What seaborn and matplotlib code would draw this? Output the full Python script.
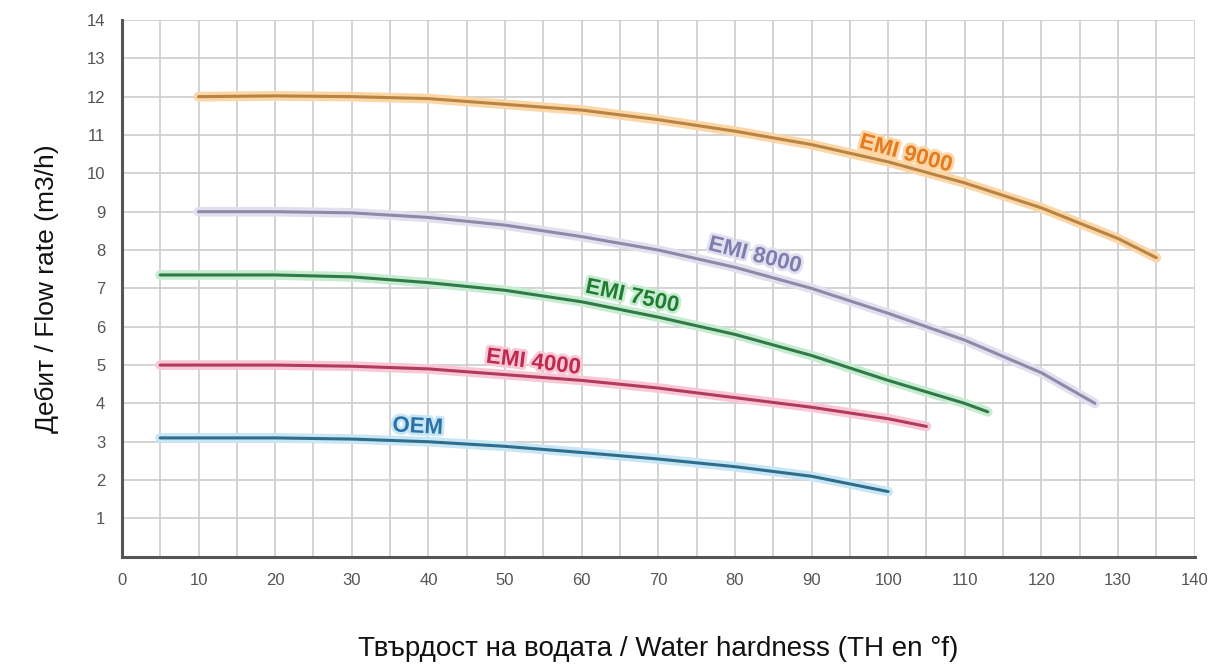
import matplotlib.pyplot as plt
import matplotlib.patheffects as pe
import pandas as pd
import seaborn as sns

# hardness (TH en °f) and flow rate (m3/h)
emi9000_x = [10, 20, 30, 40, 50, 60, 70, 80, 90, 100, 110, 120, 130, 135]
emi9000_y = [12.0, 12.02, 12.0, 11.95, 11.8, 11.65, 11.4, 11.1, 10.75, 10.3, 9.75, 9.1, 8.3, 7.8]

emi8000_x = [10, 20, 30, 40, 50, 60, 70, 80, 90, 100, 110, 120, 127]
emi8000_y = [9.0, 9.0, 8.97, 8.85, 8.65, 8.35, 8.0, 7.55, 7.0, 6.35, 5.65, 4.8, 4.0]

emi7500_x = [5, 10, 20, 30, 40, 50, 60, 70, 80, 90, 100, 110, 113]
emi7500_y = [7.35, 7.35, 7.35, 7.3, 7.15, 6.95, 6.65, 6.25, 5.8, 5.25, 4.6, 4.0, 3.78]

emi4000_x = [5, 10, 20, 30, 40, 50, 60, 70, 80, 90, 100, 105]
emi4000_y = [5.0, 5.0, 5.0, 4.97, 4.9, 4.75, 4.6, 4.4, 4.15, 3.9, 3.6, 3.4]

oem_x = [5, 10, 20, 30, 40, 50, 60, 70, 80, 90, 100]
oem_y = [3.1, 3.1, 3.1, 3.07, 3.0, 2.88, 2.72, 2.55, 2.35, 2.1, 1.7]

# name, x, y, line colour, halo colour, text colour, label position + angle
series = [
    ("EMI 9000", emi9000_x, emi9000_y, "#b98443", "#fbd6a6", "#e57a1f", 102.3, 10.5, -15),
    ("EMI 8000", emi8000_x, emi8000_y, "#8d8aa8", "#e2e0ee", "#7f7cb0", 82.6, 7.85, -14),
    ("EMI 7500", emi7500_x, emi7500_y, "#2f7a46", "#c8ecd2", "#1f7d32", 66.6, 6.78, -12),
    ("EMI 4000", emi4000_x, emi4000_y, "#b23a5c", "#f8c8d6", "#c0284e", 53.7, 5.06, -7),
    ("OEM", oem_x, oem_y, "#2f6d8c", "#c8e6f4", "#2a72a8", 38.6, 3.38, -3),
]

sns.set_style("white")
plt.rcParams["font.family"] = ["Liberation Sans", "DejaVu Sans"]

fig = plt.figure(figsize=(12.19, 6.66), dpi=100)
ax = fig.add_axes([0.100, 0.164, 0.880, 0.806])

for name, xs, ys, col, halo, tcol, lx, ly, rot in series:
    df = pd.DataFrame({"x": xs, "y": ys})
    sns.lineplot(data=df, x="x", y="y", ax=ax, color=col, linewidth=2.2,
                 path_effects=[pe.Stroke(linewidth=7, foreground=halo), pe.Normal()],
                 zorder=3)
    ax.text(lx, ly, name, color=tcol, fontsize=16, fontweight="bold",
            ha="center", va="center", rotation=rot, zorder=4,
            path_effects=[pe.withStroke(linewidth=4, foreground=halo)])

ax.set_xlim(0, 140)
ax.set_ylim(0, 14)
ax.set_xticks(range(0, 141, 10))
ax.set_xticks(range(5, 140, 10), minor=True)
ax.set_yticks(range(1, 15))
ax.grid(True, which="both", color="#cccccc", linewidth=1.2)
ax.set_axisbelow(True)

for s in ["top", "right"]:
    ax.spines[s].set_visible(False)
for s in ["left", "bottom"]:
    ax.spines[s].set_color("#555555")
    ax.spines[s].set_linewidth(2.2)

ax.tick_params(axis="both", which="both", length=0, labelsize=12, labelcolor="#555555")
ax.tick_params(axis="x", pad=12)
ax.tick_params(axis="y", pad=12)

ax.set_xlabel("Твърдост на водата / Water hardness (TH en °f)", fontsize=20,
              color="#111111", labelpad=34)
ax.set_ylabel("Дебит / Flow rate (m3/h)", fontsize=19, color="#111111", labelpad=20)

fig.savefig("out.png", dpi=100)
